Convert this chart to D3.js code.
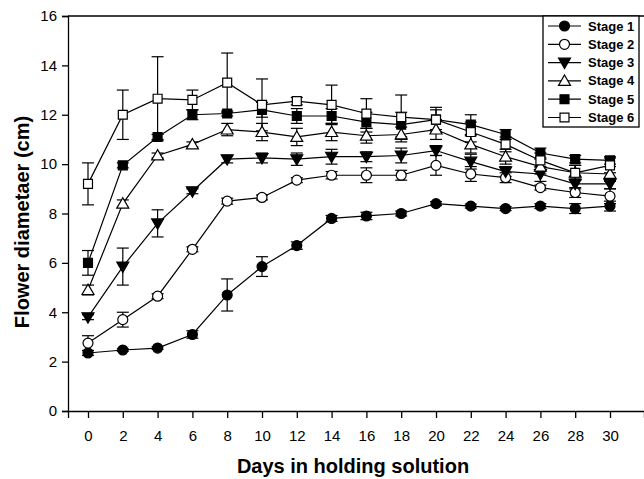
<!DOCTYPE html>
<html><head><meta charset="utf-8">
<script src="https://cdn.jsdelivr.net/npm/d3@7"></script>
<style>body{margin:0;background:#fff}svg{display:block}</style>
</head><body>
<svg id="c" width="644" height="479"></svg>
<script>
const days = [0,2,4,6,8,10,12,14,16,18,20,22,24,26,28,30];
const seriesNames = ["Stage 1","Stage 2","Stage 3","Stage 4","Stage 5","Stage 6"];
const stage1 = [2.35,2.47,2.55,3.1,4.7,5.85,6.7,7.8,7.9,8.0,8.4,8.3,8.2,8.3,8.2,8.3];
const stage1Err = [0.1,0.05,0.05,0.15,0.65,0.4,0.15,0.12,0.15,0.1,0.08,0.08,0.08,0.1,0.2,0.2];
const stage2 = [2.75,3.7,4.65,6.55,8.5,8.65,9.35,9.55,9.55,9.55,9.95,9.6,9.45,9.05,8.85,8.7];
const stage2Err = [0.3,0.3,0.1,0.1,0.12,0.1,0.1,0.15,0.3,0.2,0.4,0.3,0.2,0.1,0.2,0.3];
const stage3 = [3.8,5.85,7.6,8.9,10.2,10.25,10.2,10.3,10.3,10.35,10.55,10.1,9.7,9.6,9.2,9.2];
const stage3Err = [0.1,0.75,0.55,0.1,0.15,0.2,0.25,0.3,0.2,0.3,0.2,0.3,0.2,0.3,0.2,0.2];
const stage4 = [4.9,8.4,10.35,10.8,11.4,11.3,11.1,11.3,11.15,11.2,11.4,10.8,10.3,9.9,9.65,9.6];
const stage4Err = [0.2,0.15,0.1,0.1,0.25,0.35,0.35,0.35,0.3,0.3,0.4,0.35,0.3,0.3,0.3,0.3];
const stage5 = [6.0,9.95,11.1,12.0,12.05,12.2,11.95,11.95,11.7,11.6,11.8,11.6,11.2,10.45,10.2,10.15];
const stage5Err = [0.5,0.1,0.1,0.2,0.1,0.3,0.3,0.3,0.4,0.5,0.4,0.4,0.2,0.2,0.15,0.15];
const stage6 = [9.2,12.0,12.65,12.6,13.3,12.4,12.55,12.4,12.05,11.9,11.8,11.3,10.8,10.15,9.65,9.95];
const stage6Err = [0.85,1.0,1.7,0.4,1.2,1.05,0.15,0.8,0.6,0.9,0.5,0.4,0.3,0.3,0.3,0.3];
const yTicks = [0,2,4,6,8,10,12,14,16];

const values = [stage1,stage2,stage3,stage4,stage5,stage6];
const errs = [stage1Err,stage2Err,stage3Err,stage4Err,stage5Err,stage6Err];
const symbols = [d3.symbolCircle,d3.symbolCircle,d3.symbolTriangle,d3.symbolTriangle,d3.symbolSquare,d3.symbolSquare];
const fills = ["#000","#fff","#000","#fff","#000","#fff"];
const rot = [0,0,180,0,0,0];
const sizes = [78,78,62,62,80,80];

const svg = d3.select("#c");
const x = d3.scaleLinear().domain([-20/17.4, 556/17.4]).range([68,644]);
const y = d3.scaleLinear().domain([0,16]).range([411,16]);

const font = "Liberation Sans, Arial, sans-serif";

// axes
const gx = svg.append("g").attr("transform","translate(0,411)")
  .call(d3.axisBottom(x).tickValues(days).tickSizeOuter(0).tickSize(7).tickPadding(12));
const gy = svg.append("g").attr("transform","translate(68,0)")
  .call(d3.axisLeft(y).tickValues(yTicks).tickSizeOuter(0).tickSize(6).tickPadding(5));
[gx,gy].forEach(g=>{
  g.selectAll("text").attr("font-family",font).attr("font-size",15).attr("fill","#000");
  g.selectAll("line,path").attr("stroke","#000").attr("stroke-width",1.3);
});
// top frame
svg.append("line").attr("x1",x.range()[0]).attr("x2",x.range()[1])
  .attr("y1",y(16)).attr("y2",y(16)).attr("stroke","#000").attr("stroke-width",1.3);

// titles
svg.append("text").attr("x",353).attr("y",473).attr("text-anchor","middle")
  .attr("font-family",font).attr("font-weight","bold").attr("font-size",20).text("Days in holding solution");
svg.append("text").attr("transform","translate(29,222) rotate(-90)").attr("text-anchor","middle")
  .attr("font-family",font).attr("font-weight","bold").attr("font-size",20).text("Flower diametaer (cm)");

const line = d3.line().x((d,i)=>x(days[i])).y(d=>y(d));

values.forEach((vals,s)=>{
  const g = svg.append("g");
  vals.forEach((v,i)=>{
    const e = errs[s][i];
    const cx = x(days[i]);
    g.append("line").attr("x1",cx).attr("x2",cx).attr("y1",y(v+e)).attr("y2",y(v-e)).attr("stroke","#000").attr("stroke-width",1.2);
    [v+e,v-e].forEach(t=>g.append("line").attr("x1",cx-6).attr("x2",cx+6).attr("y1",y(t)).attr("y2",y(t)).attr("stroke","#000").attr("stroke-width",1.2));
  });
  g.append("path").attr("d",line(vals)).attr("fill","none").attr("stroke","#000").attr("stroke-width",1.2);
});
values.forEach((vals,s)=>{
  const sym = d3.symbol().type(symbols[s]).size(sizes[s]);
  svg.append("g").selectAll("path").data(vals).join("path")
    .attr("d",sym)
    .attr("transform",(d,i)=>`translate(${x(days[i])},${y(d) + (rot[s]===180?-1:(symbols[s]===d3.symbolTriangle?1:0))}) rotate(${rot[s]})`)
    .attr("fill",fills[s]).attr("stroke","#000").attr("stroke-width",1.2);
});

// legend
const lg = svg.append("g");
lg.append("rect").attr("x",543).attr("y",16).attr("width",96).attr("height",111)
  .attr("fill","#fff").attr("stroke","#000").attr("stroke-width",1.3);
seriesNames.forEach((n,s)=>{
  const ly = 26 + s*18.3;
  lg.append("line").attr("x1",548).attr("x2",581).attr("y1",ly).attr("y2",ly).attr("stroke","#000").attr("stroke-width",1.2);
  lg.append("path").attr("d",d3.symbol().type(symbols[s]).size(sizes[s])())
    .attr("transform",`translate(564.5,${ly + (rot[s]===180?-1:(symbols[s]===d3.symbolTriangle?1:0))}) rotate(${rot[s]})`)
    .attr("fill",fills[s]).attr("stroke","#000").attr("stroke-width",1.2);
  lg.append("text").attr("x",588).attr("y",ly+4.5).attr("font-family",font).attr("font-weight","bold")
    .attr("font-size",13).text(n);
});
</script>
</body></html>
